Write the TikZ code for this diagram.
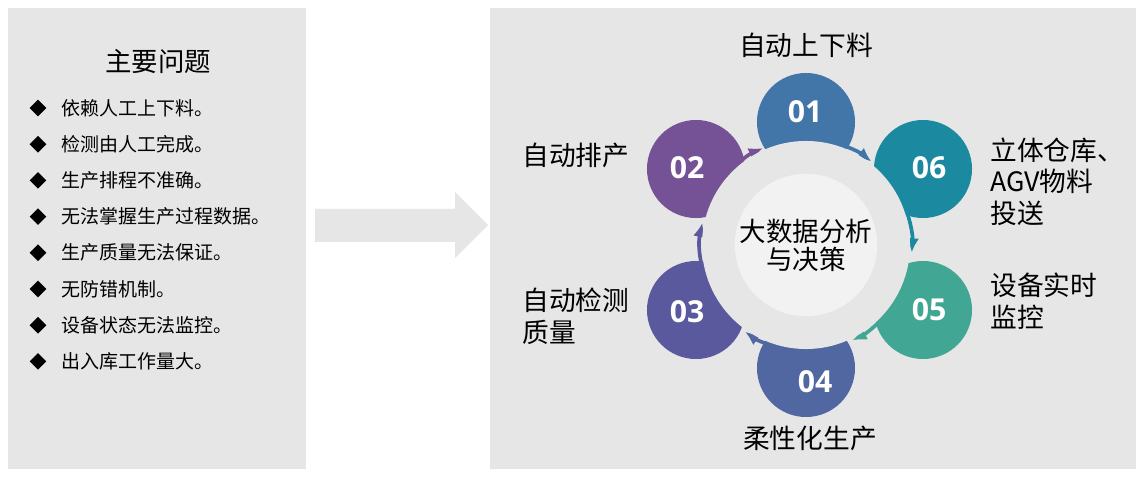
\documentclass[tikz,border=0pt]{standalone}
\usepackage{fontspec}
\setmainfont{Noto Sans CJK SC}
\newfontfamily\numfont{Open Sans}
\usetikzlibrary{arrows.meta,shapes.geometric}
\definecolor{panel}{HTML}{E6E6E6}
\definecolor{core}{HTML}{F2F2F2}
\definecolor{sone}{HTML}{4276A8}
\definecolor{stwo}{HTML}{755296}
\definecolor{sthree}{HTML}{5B599E}
\definecolor{sfour}{HTML}{5167A2}
\definecolor{sfive}{HTML}{42A694}
\definecolor{ssix}{HTML}{1B89A0}

\begin{document}
\begin{tikzpicture}[x=0.025cm,y=0.025cm]
\tikzstyle{item}=[anchor=west,inner sep=0,font=\fontsize{13.5}{16}\selectfont]
\tikzstyle{bul}=[diamond,fill=black,inner sep=0,minimum size=12pt]
\tikzstyle{sat}=[circle,inner sep=0,minimum size=2.45cm]
\tikzstyle{num}=[text=white,inner sep=0,font=\numfont\bfseries\fontsize{21.5}{24}\selectfont]
\tikzstyle{lab}=[align=left,inner sep=0,font=\fontsize{19}{22.5}\selectfont]
\tikzstyle{op}=[-{Latex[length=10pt,width=9pt]},line width=2.6pt]
\useasboundingbox (0,0) rectangle (1144,480);
\fill[white] (0,0) rectangle (1144,480);
\fill[panel] (8,11) rectangle (306,472);
\fill[panel] (490,11) rectangle (1136,472);
\fill[panel] (315,238) -- (455,238) -- (455,222) -- (488,255) -- (455,288) -- (455,271) -- (315,271) -- cycle;

% left panel
\node (0) at (158,418) [font=\fontsize{18.8}{22}\selectfont]{主要问题};
\foreach \t [count=\i] in {依赖人工上下料。,检测由人工完成。,生产排程不准确。,无法掌握生产过程数据。,生产质量无法保证。,无防错机制。,设备状态无法监控。,出入库工作量大。}{
\node (b\i) at (38,{372-36.2*(\i-1)}) [bul]{};
\node (t\i) at (61,{372-36.2*(\i-1)}) [item]{\t};
}

% wheel
\coordinate (w) at (806,235);
\node (1) at (806,358) [sat,fill=sone]{};
\node (6) at (923,311) [sat,fill=ssix]{};
\node (5) at (923,170) [sat,fill=sfive]{};
\node (4) at (806,112) [sat,fill=sfour]{};
\node (3) at (696,170) [sat,fill=sthree]{};
\node (2) at (696,311) [sat,fill=stwo]{};

\draw[op,sone] (w) ++(80:106) arc[start angle=80,end angle=52,radius=106];
\draw[op,ssix] (w) ++(25:106) arc[start angle=25,end angle=-4,radius=106];
\draw[op,sfive] (w) ++(-40:106) arc[start angle=-40,end angle=-64,radius=106];
\draw[op,sfour] (w) ++(-100:106) arc[start angle=-100,end angle=-125,radius=106];
\draw[op,sthree] (w) ++(-155:106) arc[start angle=-155,end angle=-192,radius=106];
\draw[op,stwo] (w) ++(140:106) arc[start angle=140,end angle=114,radius=106];

\node (r) at (w) [circle,fill=panel,inner sep=0,minimum size=5.2cm]{};
\node (c) at (w) [circle,fill=core,inner sep=0,minimum size=3.35cm,align=center,font=\fontsize{18.9}{19.8}\selectfont]{大数据分析\\与决策};

\node (n1) at (805,368) [num]{01};
\node (n6) at (929,312) [num]{06};
\node (n5) at (929,170) [num]{05};
\node (n4) at (815,98) [num]{04};
\node (n3) at (687,168) [num]{03};
\node (n2) at (687,312) [num]{02};

\node (l1) at (806,435) [lab]{自动上下料};
\node (l2) at (522,325) [lab,anchor=west]{自动排产};
\node (l3) at (522,163.5) [lab,anchor=west]{自动检测\\质量};
\node (l4) at (810,42) [lab]{柔性化生产};
\node (l5) at (990,179) [lab,anchor=west]{设备实时\\监控};
\node (l6) at (990,298.5) [lab,anchor=west]{立体仓库、\\AGV物料\\投送};
\end{tikzpicture}
\end{document}
